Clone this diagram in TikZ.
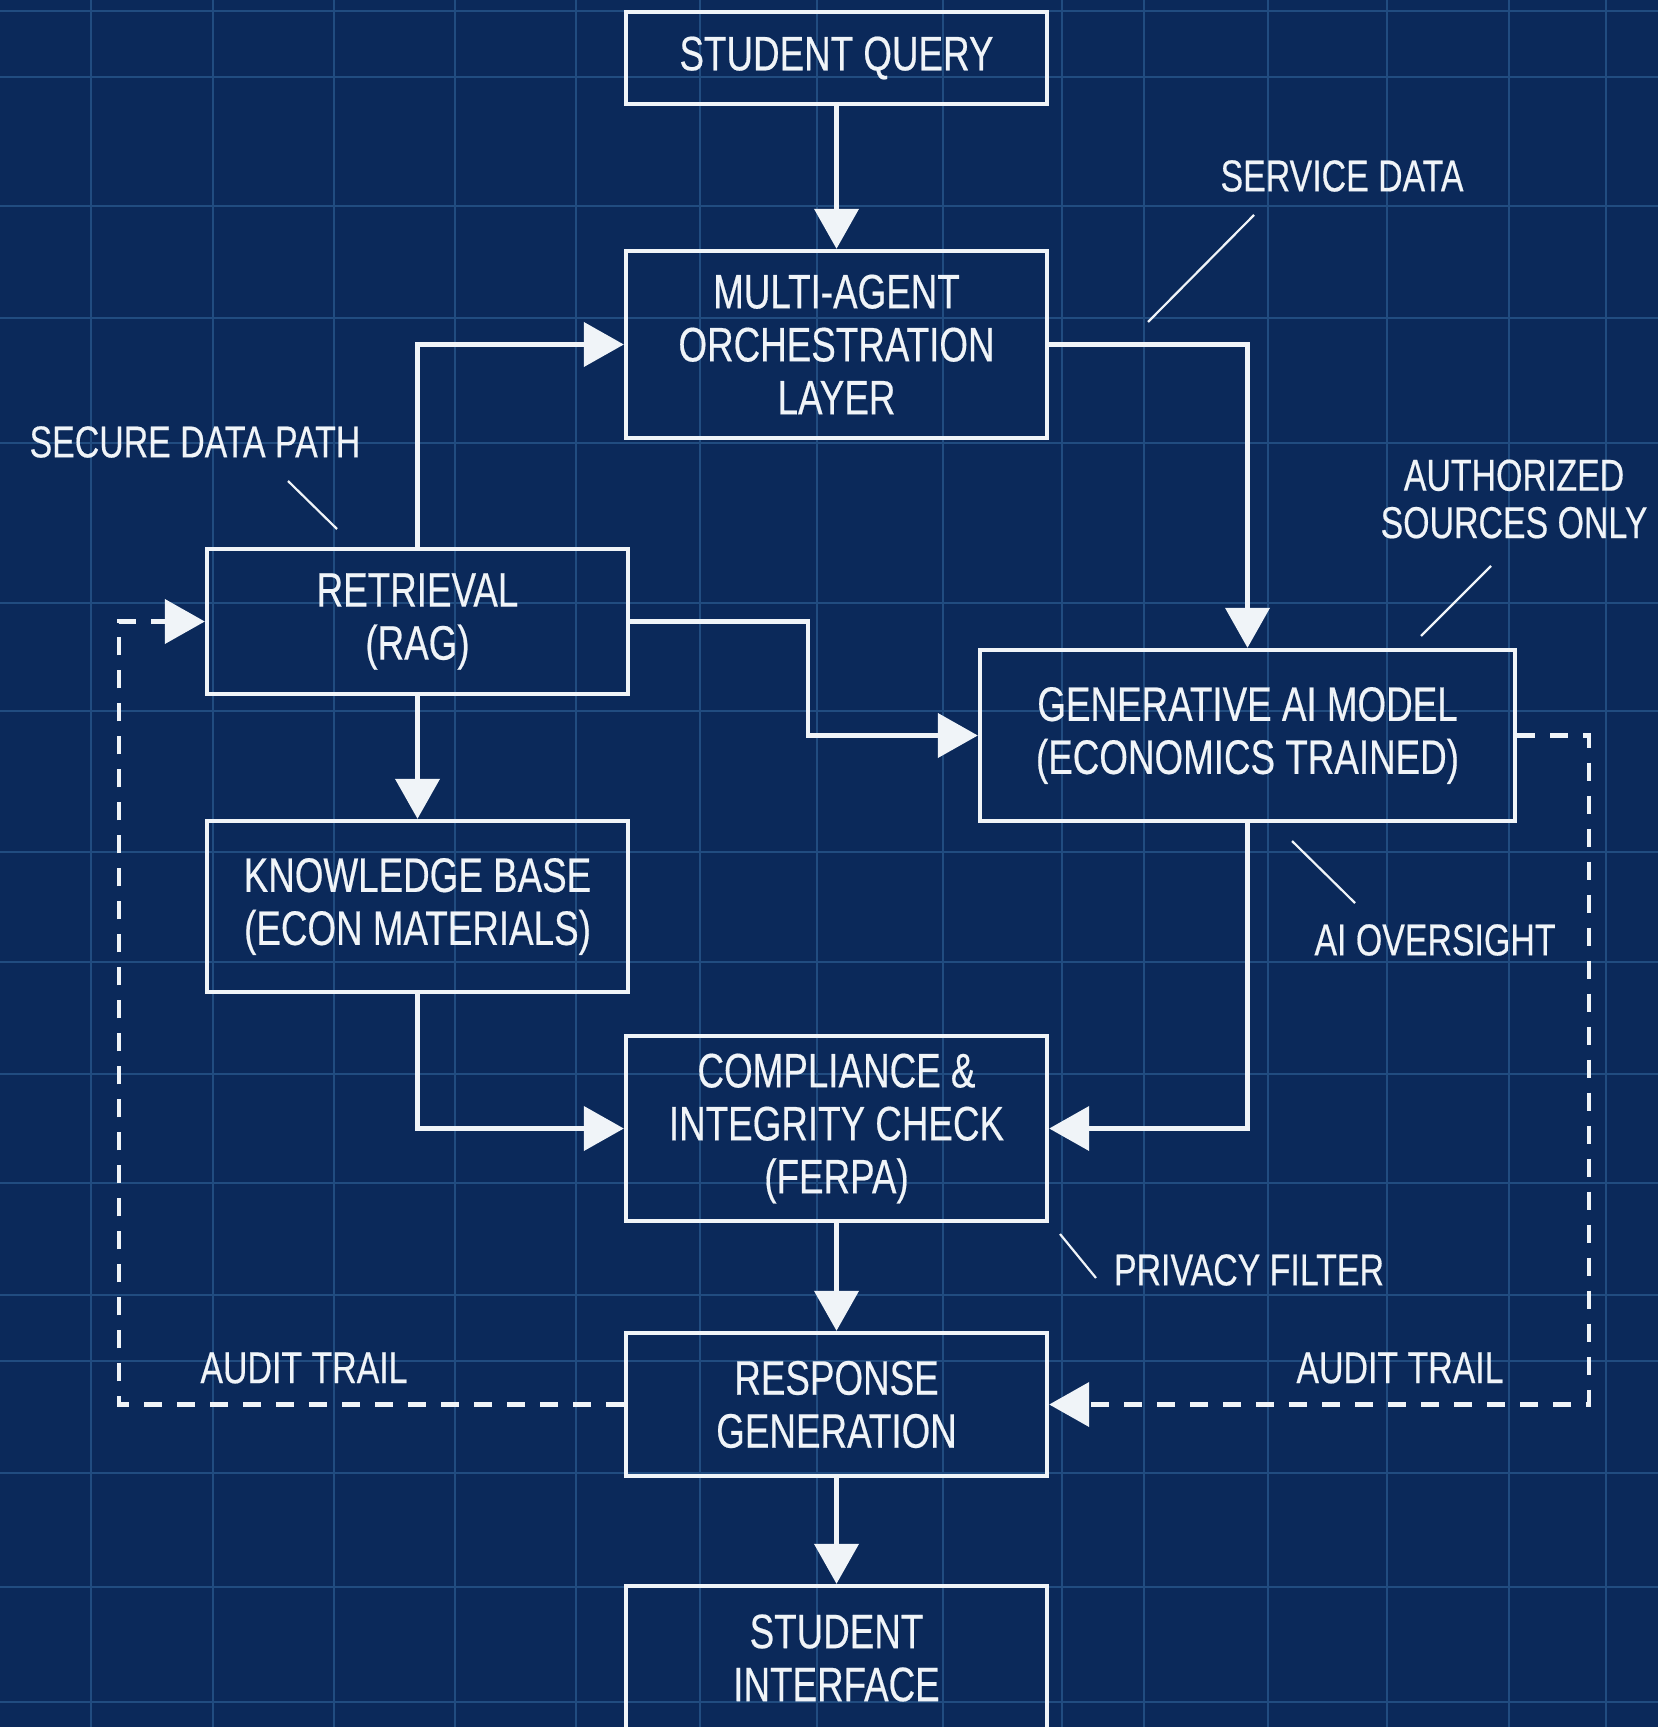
\documentclass[tikz,border=0pt]{standalone}
\usepackage{fontspec}
\setmainfont{Liberation Sans}[FakeStretch=0.76,FakeBold=0.4]
\usetikzlibrary{arrows.meta}
\definecolor{bpbg}{RGB}{11,41,90}
\definecolor{bpgrid}{RGB}{33,76,128}
\definecolor{bpink}{RGB}{240,244,248}

\begin{document}
\begin{tikzpicture}[x=0.5pt,y=-0.5pt,
  block/.style={draw=bpink,line width=2.2pt,text=bpink,align=center,inner sep=0pt,
    minimum width=210.5pt,font=\fontsize{24.2}{26.5}\selectfont},
  note/.style={text=bpink,align=center,inner sep=0pt,font=\fontsize{22.3}{23.7}\selectfont},
  flow/.style={draw=bpink,line width=2.1pt,-{Triangle[width=22pt,length=20pt]}},
  audit/.style={flow,dash pattern=on 9pt off 7.5pt},
  leader/.style={draw=bpink,line width=1.1pt},
  gridline/.style={draw=bpgrid,line width=1.1pt}]

% canvas
\useasboundingbox (0,0) rectangle (1658,1727);
\fill[bpbg] (0,0) rectangle (1658,1727);
\clip (0,0) rectangle (1658,1727);

% blueprint grid
\foreach \gx in {91,213,334,455,576,700,817,943,1062,1144,1268,1387,1509,1606}
  \draw[gridline] (\gx,0) -- (\gx,1727);
\foreach \gy in {11,77,206,318,443,603,711,852,962,1074,1183,1295,1361,1473,1587,1702}
  \draw[gridline] (0,\gy) -- (1658,\gy);

% process blocks
\node[block,minimum height=46pt]   (sq)   at (836.5,58)     {STUDENT QUERY};
\node[block,minimum height=93.5pt] (mao)  at (836.5,344.5)  {MULTI-AGENT\\ORCHESTRATION\\LAYER};
\node[block,minimum height=72.5pt] (rag)  at (417.5,621.5)  {RETRIEVAL\\(RAG)};
\node[block,minimum height=85.5pt] (kb)   at (417.5,906.5)  {KNOWLEDGE BASE\\(ECON MATERIALS)};
\node[block,minimum width=267.5pt,minimum height=85.5pt] (gen) at (1247.5,735.5) {GENERATIVE AI MODEL\\(ECONOMICS TRAINED)};
\node[block,minimum height=92.5pt] (comp) at (836.5,1128.5) {COMPLIANCE \&\\INTEGRITY CHECK\\(FERPA)};
\node[block,minimum height=71.5pt] (resp) at (836.5,1404.5) {RESPONSE\\GENERATION};
\node[block,minimum height=72pt]   (ui)   at (836.5,1658)   {STUDENT\\INTERFACE};

% bend points
\coordinate (ragbend) at (808,621.5);
\coordinate (al1) at (119,1404.5);
\coordinate (al2) at (119,621.5);
\coordinate (ar1) at (1589,735.5);
\coordinate (ar2) at (1589,1404.5);

% main data flow
\draw[flow] (sq.south) -- (mao.north);
\draw[flow] (rag.north) |- (mao.west);
\draw[flow] (mao.east) -| (gen.north);
\draw[flow] (rag.east) -- (ragbend) |- (gen.west);
\draw[flow] (rag.south) -- (kb.north);
\draw[flow] (kb.south) |- (comp.west);
\draw[flow] (gen.south) |- (comp.east);
\draw[flow] (comp.south) -- (resp.north);
\draw[flow] (resp.south) -- (ui.north);

% audit loops
\draw[audit] (resp.west) -- (al1) -- (al2) -- (rag.west);
\draw[audit] (gen.east) -- (ar1) -- (ar2) -- (resp.east);

% annotations
\node[note] (svc)  at (1342,176)  {SERVICE DATA};
\node[note] (sec)  at (195,442)   {SECURE DATA PATH};
\node[note] (auth) at (1514,499)  {AUTHORIZED\\SOURCES ONLY};
\node[note] (ovs)  at (1435,940)  {AI OVERSIGHT};
\node[note] (prv)  at (1249,1270) {PRIVACY FILTER};
\node[note] (atl)  at (304,1368)  {AUDIT TRAIL};
\node[note] (atr)  at (1400,1368) {AUDIT TRAIL};

% leader ticks
\coordinate (svcA) at (1254,215);  \coordinate (svcB) at (1148,322);
\coordinate (secA) at (288,481);   \coordinate (secB) at (337,529);
\coordinate (autA) at (1491,566);  \coordinate (autB) at (1421,636);
\coordinate (ovsA) at (1292,841);  \coordinate (ovsB) at (1355,903);
\coordinate (prvA) at (1060,1234); \coordinate (prvB) at (1096,1278);
\draw[leader] (svcA) -- (svcB);
\draw[leader] (secA) -- (secB);
\draw[leader] (autA) -- (autB);
\draw[leader] (ovsA) -- (ovsB);
\draw[leader] (prvA) -- (prvB);
\end{tikzpicture}
\end{document}
